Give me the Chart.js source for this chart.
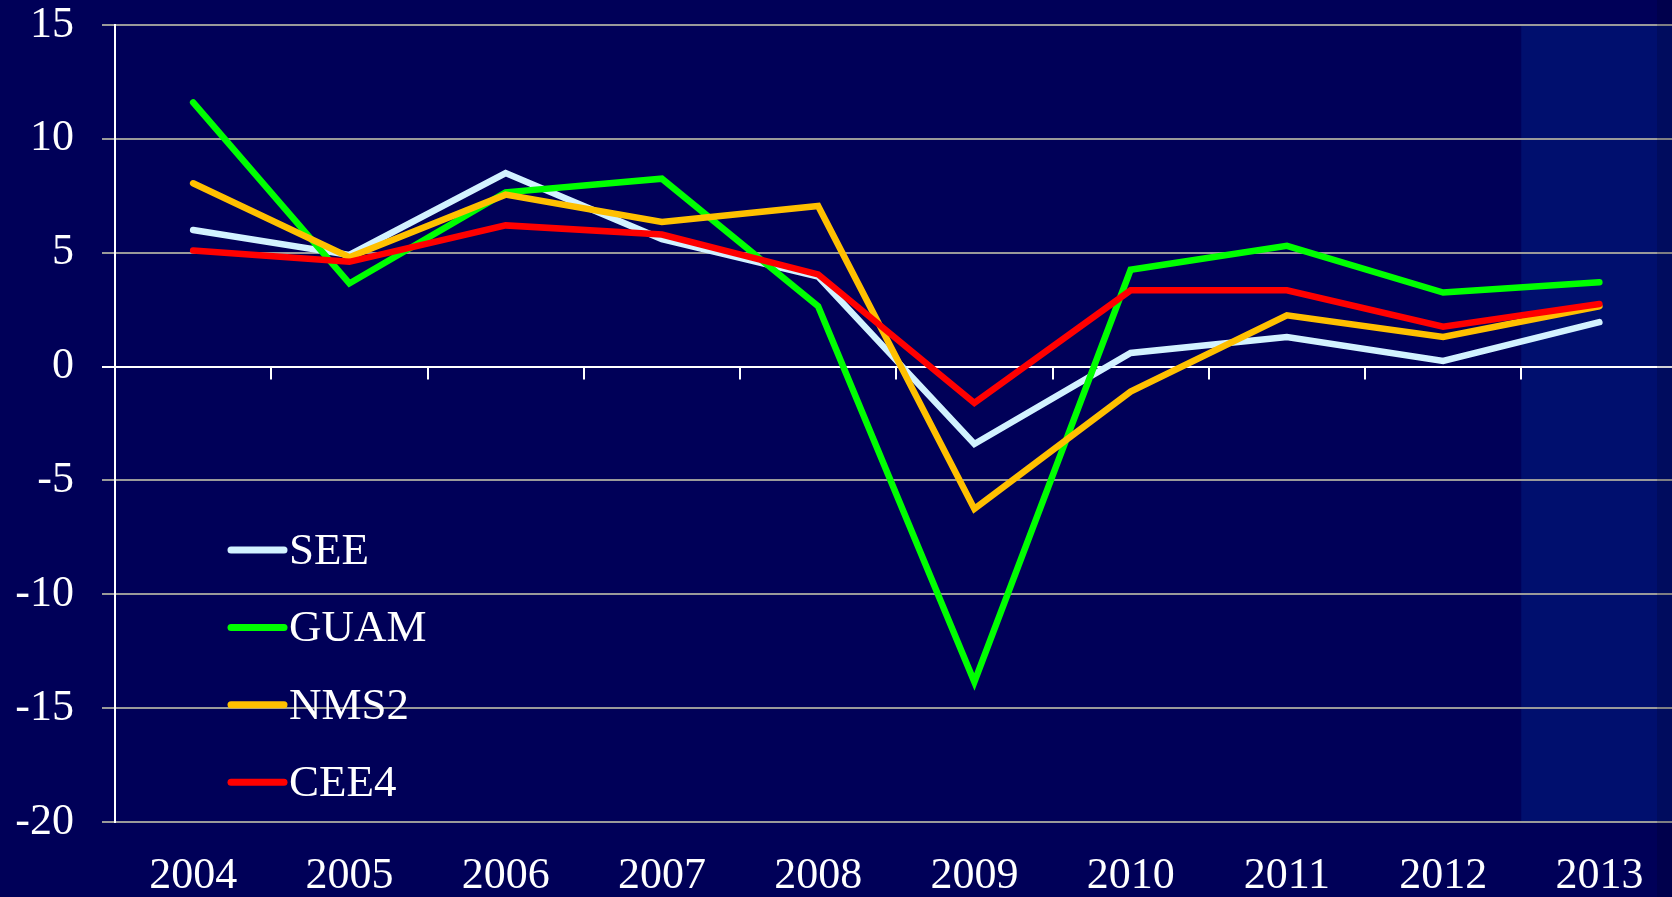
<!DOCTYPE html>
<html>
<head>
<meta charset="utf-8">
<script src="https://cdn.jsdelivr.net/npm/chart.js@4"></script>
<style>
  html, body { margin: 0; padding: 0; background: #000058; overflow: hidden; }
  #wrap { width: 1680px; height: 897px; position: relative; }
  #edge { position: fixed; top: 0; right: 0; width: 15px; height: 100%; background: rgba(0, 0, 20, 0.18); }
</style>
</head>
<body>
<div id="wrap"><canvas id="growthChart"></canvas></div>
<div id="edge"></div>
<script>
const years = ['2004', '2005', '2006', '2007', '2008', '2009', '2010', '2011', '2012', '2013'];
const seeValues  = [6.0, 4.9, 8.5, 5.6, 3.95, -3.4, 0.6, 1.3, 0.25, 1.95];
const guamValues = [11.6, 3.65, 7.65, 8.25, 2.65, -13.85, 4.25, 5.3, 3.25, 3.7];
const nms2Values = [8.05, 4.8, 7.55, 6.35, 7.05, -6.25, -1.1, 2.25, 1.3, 2.65];
const cee4Values = [5.1, 4.6, 6.2, 5.8, 4.05, -1.6, 3.35, 3.35, 1.75, 2.75];
const yTicks = [15, 10, 5, 0, -5, -10, -15, -20];
const forecastFrom = '2013';

Chart.defaults.font.family = '"Liberation Serif", "Times New Roman", serif';

// shaded forecast column + short ticks on the zero line
const backdrop = {
  id: 'backdrop',
  beforeDraw(chart) {
    const { ctx, chartArea, scales: { x } } = chart;
    const i = years.indexOf(forecastFrom);
    const left = (x.getPixelForValue(i - 1) + x.getPixelForValue(i)) / 2;
    ctx.save();
    ctx.fillStyle = '#000f6e';
    ctx.fillRect(left, chartArea.top, chartArea.right - left, chartArea.bottom - chartArea.top);
    ctx.restore();
  },
  beforeDatasetsDraw(chart) {
    const { ctx, scales: { x, y } } = chart;
    const y0 = y.getPixelForValue(0);
    ctx.save();
    ctx.strokeStyle = '#ffffff';
    ctx.lineWidth = 2;
    for (let i = 1; i < years.length; i++) {
      const px = Math.round((x.getPixelForValue(i - 1) + x.getPixelForValue(i)) / 2);
      ctx.beginPath();
      ctx.moveTo(px, y0);
      ctx.lineTo(px, y0 + 13);
      ctx.stroke();
    }
    ctx.restore();
  }
};

// legend drawn inside the plot, lower left
const insideLegend = {
  id: 'insideLegend',
  afterDatasetsDraw(chart) {
    const { ctx, chartArea } = chart;
    const x0 = chartArea.left + 113;
    ctx.save();
    ctx.font = '45px "Liberation Serif", serif';
    ctx.textBaseline = 'alphabetic';
    ctx.lineCap = 'round';
    chart.data.datasets.forEach((ds, i) => {
      const yy = 550 + i * 77.4;
      ctx.strokeStyle = ds.borderColor;
      ctx.lineWidth = 7;
      ctx.beginPath();
      ctx.moveTo(x0 + 3, yy);
      ctx.lineTo(x0 + 56, yy);
      ctx.stroke();
      ctx.fillStyle = '#ffffff';
      ctx.fillText(ds.label, x0 + 61, yy + 14);
    });
    ctx.restore();
  }
};

const line = (label, data, color, order) => ({
  label, data, order,
  borderColor: color,
  borderWidth: 6.5,
  borderCapStyle: 'round',
  borderJoinStyle: 'miter',
  pointRadius: 0,
  tension: 0
});

new Chart(document.getElementById('growthChart'), {
  type: 'line',
  data: {
    labels: years,
    datasets: [
      line('SEE', seeValues, '#d2f2ff', 4),
      line('GUAM', guamValues, '#00ff00', 3),
      line('NMS2', nms2Values, '#ffc000', 2),
      line('CEE4', cee4Values, '#ff0000', 1)
    ]
  },
  options: {
    responsive: true,
    maintainAspectRatio: false,
    animation: false,
    layout: { padding: { top: 25, right: 2.5, left: 0, bottom: 0 } },
    plugins: { legend: { display: false }, tooltip: { enabled: false } },
    scales: {
      x: {
        offset: true,
        grid: { display: false, drawTicks: false, tickLength: 0 },
        border: { display: false },
        afterFit: s => { s.height = 75; },
        ticks: { color: '#ffffff', font: { size: 44, lineHeight: 1 }, padding: 32, maxRotation: 0 }
      },
      y: {
        min: -20, max: 15,
        afterBuildTicks: s => { s.ticks = yTicks.map(v => ({ value: v })); },
        afterFit: s => { s.width = 115; s.paddingTop = 0; s.paddingBottom = 0; },
        border: { color: '#ffffff', width: 2 },
        grid: {
          color: c => (c.tick && c.tick.value === 0 ? '#ffffff' : '#9a9a9a'),
          lineWidth: 2,
          tickLength: 13
        },
        ticks: { color: '#ffffff', font: { size: 44, lineHeight: 1 }, padding: 28 }
      }
    }
  },
  plugins: [backdrop, insideLegend]
});
</script>
</body>
</html>
